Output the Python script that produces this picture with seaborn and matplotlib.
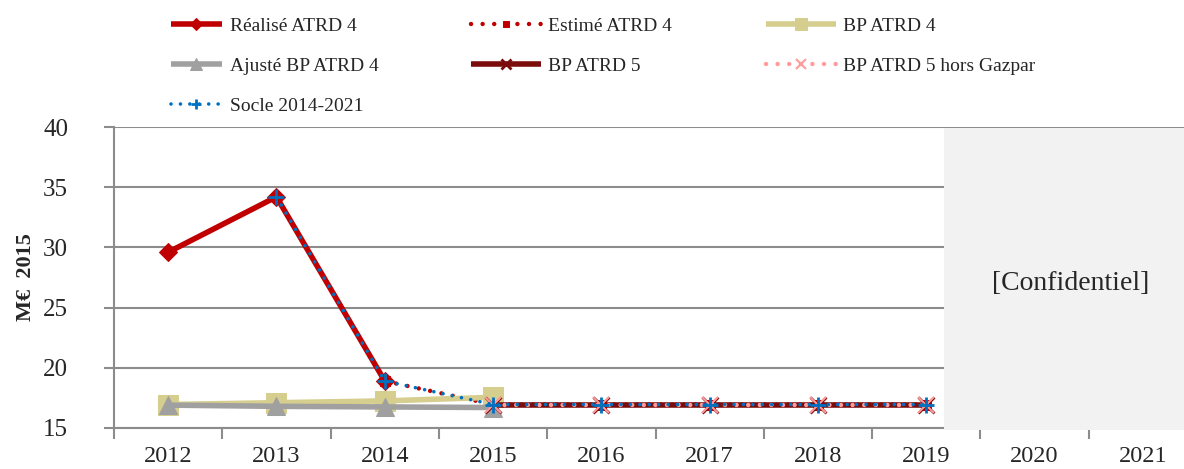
import pandas as pd
import numpy as np
import matplotlib.pyplot as plt
import seaborn as sns
from matplotlib.patches import Rectangle

sns.set_style("white")
plt.rcParams['font.family'] = ['Liberation Serif', 'DejaVu Serif']

annees = [2012, 2013, 2014, 2015, 2016, 2017, 2018, 2019, 2020, 2021]
nan = np.nan

realise_atrd4 = [29.6, 34.2, 18.9, nan, nan, nan, nan, nan, nan, nan]
estime_atrd4 = [nan, nan, 18.9, 16.95, 16.95, 16.95, 16.95, 16.95, nan, nan]
bp_atrd4 = [16.95, 17.1, 17.25, 17.55, nan, nan, nan, nan, nan, nan]
ajuste_bp_atrd4 = [16.9, 16.8, 16.75, 16.7, nan, nan, nan, nan, nan, nan]
bp_atrd5 = [nan, nan, nan, 16.95, 16.95, 16.95, 16.95, 16.95, nan, nan]
bp_atrd5_hors_gazpar = [nan, nan, nan, 16.95, 16.95, 16.95, 16.95, 16.95, nan, nan]
socle = [nan, 34.2, 18.9, 16.95, 16.95, 16.95, 16.95, 16.95, nan, nan]

dot = (0, (0.01, 2.6))
series = [
    ("Réalisé ATRD 4", realise_atrd4, dict(color="#C00000", linestyle="-", marker="D", markersize=9, linewidth=4)),
    ("Estimé ATRD 4", estime_atrd4, dict(color="#C00000", linestyle=dot, marker="s", markersize=7, linewidth=3.2)),
    ("BP ATRD 4", bp_atrd4, dict(color="#D5CE8E", linestyle="-", marker="s", markersize=14, linewidth=4)),
    ("Ajusté BP ATRD 4", ajuste_bp_atrd4, dict(color="#A0A0A0", linestyle="-", marker="^", markersize=13, linewidth=4)),
    ("BP ATRD 5", bp_atrd5, dict(color="#7B0C0C", linestyle="-", marker="x", markersize=11, linewidth=4, markeredgewidth=2)),
    ("BP ATRD 5 hors Gazpar", bp_atrd5_hors_gazpar, dict(color="#FF9B9B", linestyle=dot, marker="x", markersize=12, linewidth=3.2, markeredgewidth=1.5)),
    ("Socle 2014-2021", socle, dict(color="#0070C0", linestyle=dot, marker="+", markersize=11, linewidth=2.6, markeredgewidth=2)),
]

fig = plt.figure(figsize=(11.84, 4.69), dpi=100)
ax = fig.add_axes([114 / 1184, 41 / 469, 1083 / 1184, 301 / 469])

handles = {}
for nom, valeurs, style in series:
    df = pd.DataFrame({"annee": annees, "valeur": valeurs}).dropna()
    sns.lineplot(data=df, x="annee", y="valeur", ax=ax, markeredgecolor=style["color"],
                 dash_capstyle="round", solid_capstyle="butt", label=nom, legend=False, **style)
    handles[nom] = ax.get_lines()[-1]

ax.set_xlim(2011.5, 2021.5)
ax.set_ylim(15, 40)
ax.set_yticks([15, 20, 25, 30, 35, 40])
ax.set_xticks(np.arange(2011.5, 2022, 1))
ax.set_xticklabels([])
ax.set_xticks(annees, minor=True)
ax.set_xticklabels([str(a) for a in annees], minor=True)
ax.tick_params(axis="x", which="major", direction="out", length=8, width=1.5, color="#8c8c8c", bottom=True)
ax.tick_params(axis="x", which="minor", length=0, labelsize=17.5, pad=13)
ax.tick_params(axis="y", direction="out", length=7, width=1.5, color="#8c8c8c", left=True, labelsize=18, pad=26)
ax.grid(axis="y", color="#8c8c8c", linewidth=1.5)
ax.set_axisbelow(True)
for s in ["top", "right"]:
    ax.spines[s].set_visible(False)
for s in ["left", "bottom"]:
    ax.spines[s].set_color("#8c8c8c")
    ax.spines[s].set_linewidth(1.5)
ax.set_xlabel("")
ax.set_ylabel("M€  2015", fontsize=16, fontweight="bold")
ax.yaxis.set_label_coords(-0.072, 0.5)

# zone confidentielle
fig.patches.append(Rectangle((944 / 1184, 39 / 469), 1, 302 / 469, transform=fig.transFigure,
                             facecolor="#F2F2F2", edgecolor="none", zorder=5))
fig.text(1071 / 1184, 1 - 283 / 469, "[Confidentiel]", fontsize=20, ha="center", va="center", zorder=6)

colonnes = [
    (["Réalisé ATRD 4", "Ajusté BP ATRD 4", "Socle 2014-2021"], 153, 2.65),
    (["Estimé ATRD 4", "BP ATRD 5"], 453, 3.6),
    (["BP ATRD 4", "BP ATRD 5 hors Gazpar"], 748, 3.6),
]
for noms, x0, hl in colonnes:
    fig.legend([handles[n] for n in noms], noms, ncol=1, loc="upper left",
               bbox_to_anchor=(x0 / 1184, 1.0), frameon=False, fontsize=14,
               handlelength=hl, labelspacing=1.15, handletextpad=0.4, markerscale=0.65)

fig.savefig("out.png", dpi=100)
